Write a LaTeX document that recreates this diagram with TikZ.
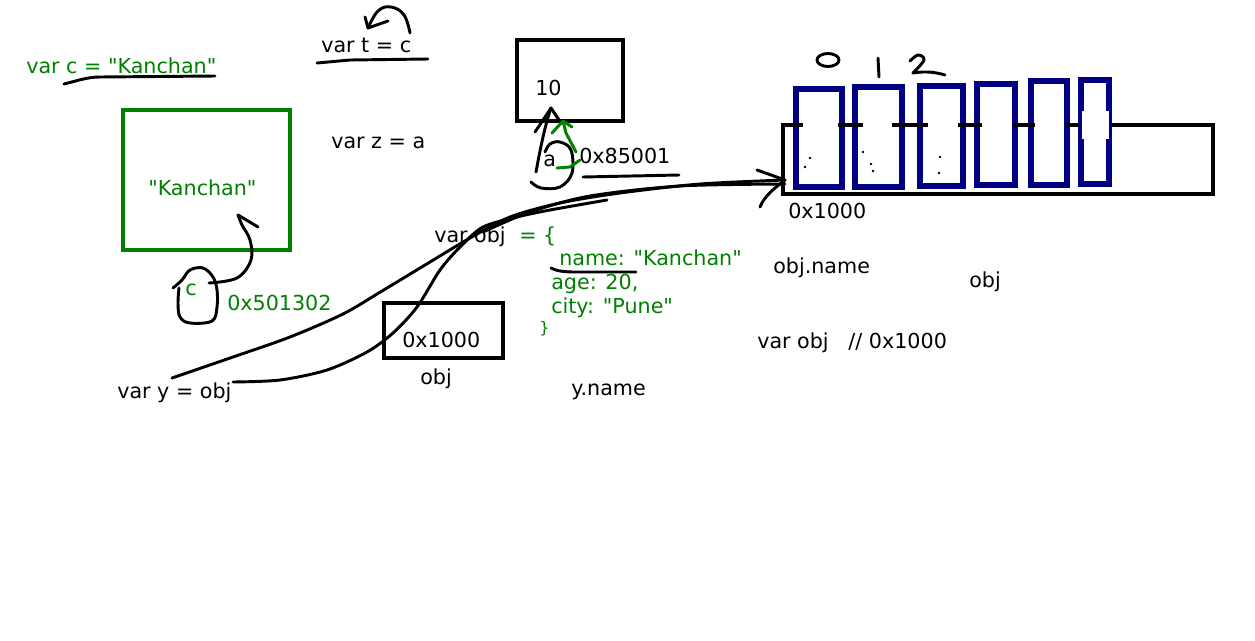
\documentclass[tikz,border=0pt]{standalone}
\usepackage{fontspec}
\newfontfamily\dv{DejaVu Sans}
\usetikzlibrary{fit}
\definecolor{pgreen}{HTML}{008000}
\definecolor{pnavy}{HTML}{000080}
\begin{document}
\begin{tikzpicture}[x=0.75pt,y=-0.75pt,
  txt/.style={font=\dv\fontsize{15.5}{18}\selectfont, inner sep=0pt, anchor=base west},
  gtxt/.style={txt, text=pgreen},
  bbox/.style={draw, line width=3pt, inner sep=0pt},
  gbox/.style={draw=pgreen, line width=3pt, inner sep=0pt},
  cell/.style={draw=pnavy, line width=3.8pt, fill=white, inner sep=0pt},
  pen/.style={line width=2.2pt, line cap=round, line join=round},
  gpen/.style={pen, draw=pgreen}
]
\fill[white] (0,0) rectangle (1255,640);
\useasboundingbox (0,0) rectangle (1255,640);

% ---- var c = "Kanchan" ----
\node[gtxt] (vc) at (26,73) {var c = "Kanchan"};
\draw[pen] (64,84) .. controls (80,80) and (88,77) .. (100,77) -- (215,76);

\node[gbox, fit={(123,110) (290,250)}] (kbox) {};
\node[gtxt] (kval) at (148,195) {"Kanchan"};

\node[gtxt] (cvar) at (185,295) {c};
\node[gtxt] (caddr) at (227,310) {0x501302};
\coordinate (ktip) at (238,215);
\draw[pen] plot[smooth, tension=0.6] coordinates {(173,288) (182,280) (190,270) (203,268) (213,277) (217,290) (217,307) (212,321) (190,323) (180,317) (178,303) (179,288)};
\draw[pen] plot[smooth, tension=0.6] coordinates {(209,283) (237,278) (251,260) (250,240) (242,225) (ktip)};
\draw[pen] (ktip) -- (258,227);

% ---- var t = c ----
\node[txt] (vt) at (321,52) {var t = c};
\draw[pen] (317,63) -- (350,60) -- (428,59);
\coordinate (ttip) at (368,28);
\draw[pen] plot[smooth, tension=0.7] coordinates {(410,33) (404,15) (391,7) (378,11) (ttip)};
\draw[pen] (365,17) -- (ttip) -- (388,21);

\node[txt] (vz) at (331,148) {var z = a};

% ---- box 10 ----
\node[bbox, fit={(517,40) (623,121)}] (tenbox) {};
\node[txt] (ten) at (535,95) {10};
\node[txt] (avar) at (543,166) {a};
\node[txt] (aaddr) at (579,163) {0x85001};
\draw[pen] (583,177) -- (679,175);
\coordinate (atip) at (551,108);
\draw[pen] (536,172) .. controls (540,150) and (545,125) .. (atip);
\draw[pen] (535,132) -- (atip) -- (559,120);
\draw[pen] plot[smooth, tension=0.6] coordinates {(531,182) (541,188) (560,187) (572,173) (571,150) (560,142) (550,144) (545,152)};
\coordinate (gtip) at (563,121);
\draw[gpen] (557,168) -- (570,167) -- (580,160);
\draw[gpen] (576,152) -- (566,133) -- (gtip);
\draw[gpen] (552,133) -- (gtip) -- (572,127);

% ---- array ----
\node[bbox, fit={(783,125) (1213,194)}] (arr) {};
\node[cell, fit={(796,89) (842,187)}] (c0) {};
\node[cell, fit={(855,87) (902,187)}] (c1) {};
\node[cell, fit={(920,86) (963,186)}] (c2) {};
\node[cell, fit={(977,84) (1015,185)}] (c3) {};
\node[cell, fit={(1031,81) (1067,185)}] (c4) {};
\node[cell, fit={(1081,80) (1109,184)}] (c5) {};
\fill[white] (1082,111) rectangle (1109,139);
\foreach \a/\b in {782/803, 838/863, 892/928, 958/982, 1013/1035, 1066/1080}
  \draw[line width=3pt] (\a,125) -- (\b,125);
\foreach \p in {(810,158),(805,167),(863,152),(871,164),(873,171),(940,157),(939,173)}
  \fill \p circle (1.4);
\node[txt] (aaddr2) at (788,218) {0x1000};
% handwritten indices
\draw[pen] (828,60) ellipse [x radius=11, y radius=6.5];
\draw[pen] (878,58) -- (879,77);
\draw[pen] plot[smooth, tension=0.6] coordinates {(910,61) (918,55) (924,60) (913,73)};
\draw[pen] (913,73) .. controls (925,71) and (935,72) .. (945,75);

% ---- var obj = {...} ----
\node[txt] (vobj) at (434,242) {var obj};
\node[gtxt] (eq) at (519,242) {= \{};
\node[gtxt] (l1) at (559,265) {name: "Kanchan"};
\node[gtxt] (l2) at (551,289) {age: 20,};
\node[gtxt] (l3) at (551,313) {city: "Pune"};
\node[gtxt, font=\dv\fontsize{12}{14}\selectfont] (l4) at (539,333) {\}};
\draw[pen] (551,268) .. controls (556,271) and (565,272) .. (575,272) -- (636,272);

\node[bbox, fit={(384,303) (503,358)}] (objbox) {};
\node[txt] (objaddr) at (402,347) {0x1000};
\node[txt] (objlbl) at (420,384) {obj};

\node[txt] (vy) at (117,398) {var y = obj};
\node[txt] (yname) at (571,395) {y.name};
\node[txt] (oname) at (773,273) {obj.name};
\node[txt] (olbl) at (969,287) {obj};
\node[txt] (vobj2) at (757,348) {var obj\ \ \ // 0x1000};

% ---- reference arrows to array ----
\coordinate (rtip) at (785,180);
\draw[pen] plot[smooth, tension=0.5] coordinates {(172,378) (233,357) (290,337) (343,314) (382,291) (430,262) (470,238) (510,217) (560,203) (620,193) (700,184) (rtip)};
\draw[pen] plot[smooth, tension=0.5] coordinates {(233,382) (280,380) (327,370) (367,352) (393,333) (417,307) (440,270) (460,247) (483,227) (517,217) (550,210) (607,200)};
\draw[pen] plot[smooth, tension=0.5] coordinates {(483,232) (530,212) (590,196) (680,186) (785,184)};
\draw[pen] (757,170) -- (rtip);
\draw[pen] (rtip) .. controls (775,188) and (765,195) .. (760,207);
\end{tikzpicture}
\end{document}
